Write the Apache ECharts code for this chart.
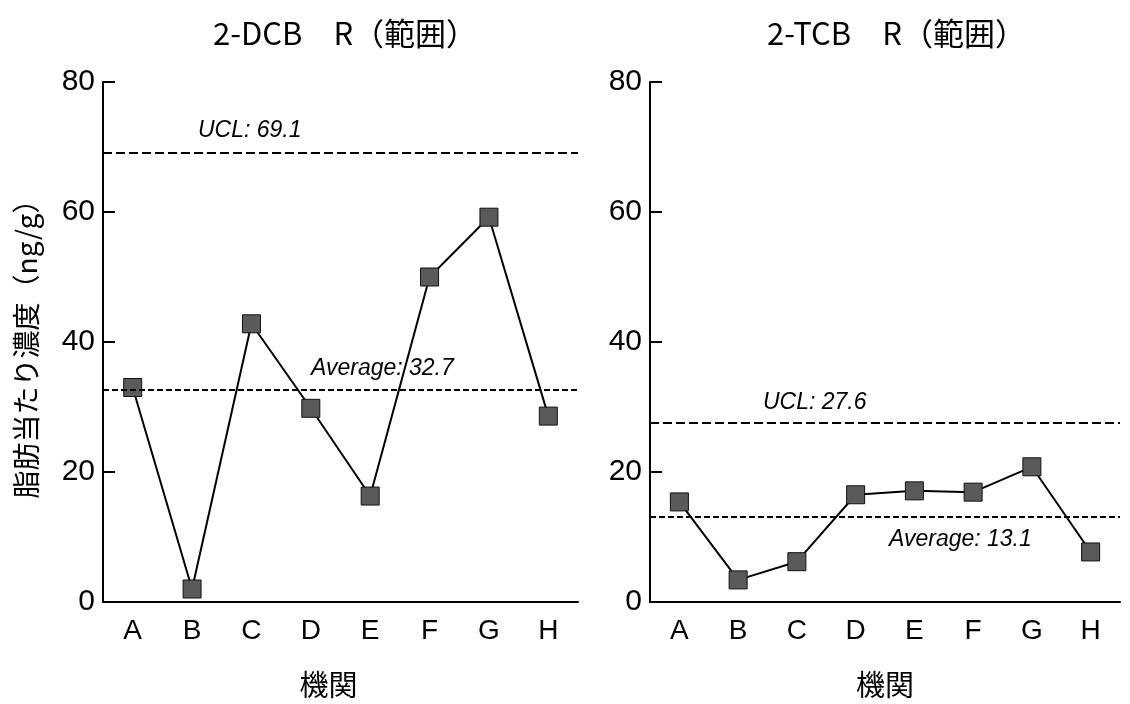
<!DOCTYPE html>
<html><head><meta charset="utf-8">
<script src="https://cdn.jsdelivr.net/npm/echarts@6/dist/echarts.min.js"></script>
<style>html,body{margin:0;padding:0;background:#fff}#c{width:1130px;height:704px}</style>
</head><body><div id="c"></div>
<script>
const categories = ['A','B','C','D','E','F','G','H'];
const dcbValues = [33.0, 2.0, 42.8, 29.8, 16.3, 50.0, 59.2, 28.6];
const tcbValues = [15.4, 3.4, 6.2, 16.5, 17.1, 16.9, 20.8, 7.7];
const dcbUCL = 69.1, dcbAvg = 32.7;
const tcbUCL = 27.6, tcbAvg = 13.1;
const titles = ['2-DCB　R（範囲）', '2-TCB　R（範囲）'];
const yName = '脂肪当たり濃度（ng/g）';
const xName = '機関';

const latin = 'Liberation Sans, Arial, Helvetica, sans-serif';
const cjk = 'Noto Sans CJK JP, sans-serif';

function xAxis(idx, namePad){
  return {
    type:'category', gridIndex:idx, data:categories, boundaryGap:true,
    axisLine:{lineStyle:{color:'#000', width:2}},
    axisTick:{inside:true, alignWithLabel:true, length:14, lineStyle:{color:'#000', width:2}},
    axisLabel:{color:'#000', fontSize:28, fontFamily:latin, margin:15},
    name:xName, nameLocation:'middle', nameGap:68,
    nameTextStyle:{color:'#000', fontSize:29, fontFamily:cjk, padding:namePad},
    splitLine:{show:false}
  };
}
function yAxis(idx, withName){
  const a = {
    type:'value', gridIndex:idx, min:0, max:80, interval:20,
    axisLine:{show:true, lineStyle:{color:'#000', width:2}},
    axisTick:{show:true, inside:true, length:12, lineStyle:{color:'#000', width:2}},
    axisLabel:{color:'#000', fontSize:30, fontFamily:latin, margin:8},
    splitLine:{show:false}
  };
  if (withName){
    a.name = yName; a.nameLocation='middle'; a.nameGap=63; a.nameRotate=90;
    a.nameTextStyle = {color:'#000', fontSize:28, fontFamily:cjk};
  }
  return a;
}
function lineLabel(text, pos, dist){
  return {show:true, formatter:text, position:pos, distance:dist,
    color:'#000', fontSize:23, fontStyle:'italic', fontFamily:latin};
}
function series(idx, values, ucl, avg, uclLab, avgLab){
  return {
    type:'line', xAxisIndex:idx, yAxisIndex:idx, data:values,
    symbol:'rect', symbolSize:18,
    itemStyle:{color:'#5a5a5a', borderColor:'#111', borderWidth:1},
    lineStyle:{color:'#000', width:2},
    markLine:{
      silent:true, symbol:'none', animation:false,
      data:[
        {yAxis:ucl, lineStyle:{type:[9,4], color:'#000', width:2}, label:uclLab},
        {yAxis:avg, lineStyle:{type:[6,3], color:'#000', width:2}, label:avgLab}
      ]
    }
  };
}

const chart = echarts.init(document.getElementById('c'));
chart.setOption({
  animation:false,
  backgroundColor:'#fff',
  title:[
    {text:titles[0], left:208, top:13, textStyle:{fontSize:31, fontWeight:'normal', color:'#000', fontFamily:cjk}},
    {text:titles[1], left:762, top:13, textStyle:{fontSize:31, fontWeight:'normal', color:'#000', fontFamily:cjk}}
  ],
  grid:[
    {left:103, top:82, width:475, height:520, outerBoundsMode:'none', containLabel:false},
    {left:650, top:82, width:470, height:520, outerBoundsMode:'none', containLabel:false}
  ],
  xAxis:[xAxis(0, [0, 24, 0, 0]), xAxis(1, 0)],
  yAxis:[yAxis(0,true), yAxis(1,false)],
  series:[
    series(0, dcbValues, dcbUCL, dcbAvg,
      lineLabel('UCL: ' + dcbUCL, 'insideStartTop', [95, 11]),
      lineLabel('Average: ' + dcbAvg, 'insideStartTop', [208, 9])),
    series(1, tcbValues, tcbUCL, tcbAvg,
      lineLabel('UCL: ' + tcbUCL, 'insideStartTop', [113, 8]),
      lineLabel('Average: ' + tcbAvg, 'insideStartBottom', [239, 11]))
  ]
});
</script></body></html>
